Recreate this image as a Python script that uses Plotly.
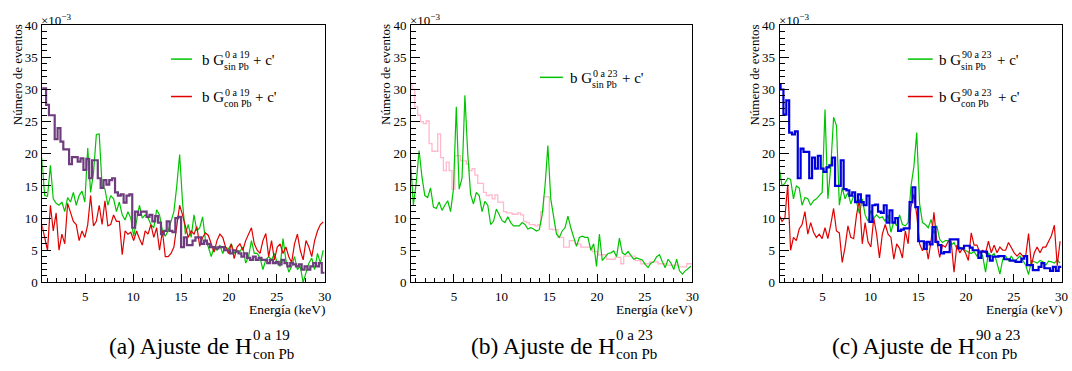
import numpy as np
import plotly.graph_objects as go

# ---------------------------------------------------------------
# Spectra: 0.3 keV bins, bin centres 0.45 ... 29.85 keV (99 bins)
# ---------------------------------------------------------------
bin_width = 0.3
energia = np.round(0.45 + bin_width * np.arange(99), 2)

# (a) fit of H(0 a 19, con Pb)
a_sin_pb = [19.4, 13.5, 13.4, 18.2, 13.0, 12.3, 12.0, 12.5, 11.0, 13.2,
            12.5, 14.0, 12.0, 13.5, 14.2, 12.5, 20.9, 14.0, 17.0, 23.0,
            23.1, 15.0, 14.5, 12.0, 13.5, 13.0, 11.0, 12.5, 10.5, 9.7,
            11.0, 10.0, 7.2, 9.5, 12.0, 10.0, 10.5, 10.0, 9.0, 8.5,
            11.3, 10.5, 8.0, 7.2, 8.0, 9.5, 11.0, 15.0, 19.9, 12.5,
            7.5, 9.0, 7.0, 10.5, 8.0, 8.5, 10.2, 6.5, 5.5, 4.0,
            5.5, 5.0, 5.8, 4.5, 5.5, 5.2, 6.0, 4.5, 5.0, 4.8,
            5.5, 3.0, 4.0, 6.5, 4.5, 4.5, 3.8, 2.0, 3.5, 4.0,
            3.5, 4.5, 3.0, 2.5, 6.8, 3.5, 1.6, 2.5, 4.0, 2.0,
            2.5, 0.0, 1.5, 3.0, 3.8, 2.0, 4.5, 3.0, 5.0]
a_con_pb = [9.0, 7.0, 5.0, 12.0, 8.0, 10.8, 5.0, 7.5, 6.0, 12.3,
            11.0, 9.5, 9.0, 6.5, 8.0, 7.0, 9.0, 13.5, 8.8, 9.5,
            12.0, 9.0, 12.7, 8.8, 9.0, 10.5, 9.5, 9.5, 4.3, 8.0,
            7.5, 7.8, 6.5, 8.0, 6.8, 5.8, 8.0, 7.5, 9.0, 7.0,
            8.5, 5.0, 8.0, 4.0, 4.0, 4.5, 5.5, 9.0, 12.0, 10.5,
            8.5, 7.0, 8.0, 7.5, 8.7, 5.6, 7.0, 7.7, 7.3, 6.0,
            4.7, 6.5, 7.5, 7.0, 5.5, 4.5, 6.0, 3.7, 5.5, 6.0,
            5.0, 6.5, 7.5, 8.5, 6.0, 5.0, 4.5, 6.5, 7.6, 4.0,
            6.5, 3.5, 5.5, 6.0, 4.5, 5.5, 4.0, 3.1, 6.0, 7.5,
            5.0, 3.5, 6.5, 5.5, 4.0, 6.5, 8.0, 9.0, 9.4]
a_hist = [30.2, 30.2, 27.6, 26.0, 26.0, 22.3, 24.0, 21.9, 20.7, 20.7,
          18.4, 19.5, 19.5, 18.8, 19.3, 17.5, 19.2, 16.2, 19.0, 19.0,
          16.2, 14.7, 15.9, 15.2, 15.9, 16.2, 14.0, 13.5, 13.7, 12.4,
          13.5, 13.7, 8.5, 11.0, 10.5, 11.0, 11.0, 10.2, 10.5, 9.5,
          10.3, 9.3, 7.5, 8.0, 9.5, 8.0, 7.8, 10.0, 10.2, 5.5,
          7.0, 5.8, 5.8, 6.5, 7.0, 7.0, 6.0, 6.5, 6.0, 5.5,
          5.5, 5.3, 5.5, 5.5, 5.0, 5.0, 4.5, 5.0, 4.8, 4.5,
          4.0, 4.5, 3.8, 3.5, 4.0, 3.5, 3.8, 3.5, 3.5, 3.0,
          3.5, 3.0, 3.2, 2.8, 3.5, 3.0, 2.5, 3.0, 2.8, 2.5,
          2.8, 2.0, 2.5, 2.0, 2.5, 3.0, 2.5, 3.0, 1.5]

# (b) fit of H(0 a 23, con Pb)
b_sin_pb = [19.0, 12.0, 15.5, 20.5, 16.4, 13.5, 13.2, 14.7, 11.7, 11.5,
            12.5, 11.2, 12.0, 12.7, 11.0, 14.5, 27.3, 14.5, 16.2, 29.1,
            20.0, 13.7, 12.2, 14.0, 13.5, 11.0, 12.6, 12.0, 9.0, 9.5,
            11.4, 10.5, 9.6, 9.3, 10.2, 9.3, 8.8, 8.8, 8.8, 9.3,
            9.0, 8.3, 8.5, 8.3, 8.0, 8.2, 10.5, 15.0, 21.3, 13.0,
            10.0, 7.5, 7.0, 8.0, 8.5, 10.3, 8.5, 7.0, 5.6, 7.0,
            7.2, 7.0, 7.0, 5.0, 6.0, 2.5, 7.5, 3.4, 4.0, 4.5,
            4.6, 4.9, 4.0, 6.9, 4.6, 4.3, 4.8, 4.1, 3.6, 3.8,
            3.6, 3.5, 2.8, 2.3, 3.0, 3.2, 4.0, 4.3, 3.2, 2.3,
            3.6, 3.0, 2.0, 3.6, 1.8, 1.3, 1.8, 2.2, 2.5]
b_hist = [30.7, 30.0, 27.3, 26.0, 25.0, 24.7, 25.1, 21.6, 20.4, 20.4,
          23.1, 19.4, 17.4, 18.7, 17.4, 14.5, 19.7, 19.7, 18.9, 18.9,
          18.4, 17.4, 17.7, 16.7, 15.4, 15.4, 14.0, 13.5, 13.6, 13.0,
          13.6, 12.5, 12.5, 11.0, 10.8, 10.8, 10.6, 10.6, 10.8, 10.5,
          9.5, 9.3, 9.0, 9.0, 8.8, 9.0, 11.0, 13.3, 13.3, 8.3,
          8.2, 8.2, 7.0, 7.0, 5.5, 5.5, 6.5, 6.5, 6.0, 6.0,
          5.5, 5.5, 5.5, 5.5, 4.8, 4.8, 4.3, 4.3, 4.3, 3.6,
          3.6, 3.6, 3.9, 3.9, 2.9, 4.1, 4.1, 4.1, 4.1, 3.4,
          3.4, 2.9, 2.9, 2.9, 3.2, 3.2, 3.2, 2.9, 2.9, 2.9,
          2.7, 2.7, 2.7, 2.7, 2.4, 2.4, 2.4, 2.9, 2.9]

# (c) fit of H(90 a 23, con Pb)
c_sin_pb = [17.9, 15.0, 15.4, 16.2, 16.0, 13.0, 15.0, 14.7, 12.0, 13.2,
            13.0, 12.0, 12.7, 13.0, 13.5, 14.0, 26.9, 13.0, 17.9, 25.7,
            24.4, 12.0, 14.7, 13.0, 14.0, 12.2, 13.5, 12.5, 10.7, 13.0,
            10.5, 9.5, 11.2, 10.0, 10.5, 10.0, 10.2, 9.5, 10.5, 7.8,
            9.5, 8.8, 10.5, 9.0, 8.8, 9.3, 15.0, 18.0, 23.3, 12.2,
            9.3, 9.0, 8.5, 9.8, 7.6, 8.8, 6.7, 6.2, 6.5, 6.5,
            5.8, 6.2, 5.2, 5.5, 5.2, 5.0, 4.8, 4.5, 4.8, 4.1,
            4.8, 4.1, 1.6, 4.6, 4.1, 4.5, 3.0, 1.3, 3.6, 4.1,
            3.4, 4.1, 3.2, 3.6, 4.1, 3.4, 2.7, 1.2, 3.4, 3.2,
            3.0, 3.4, 3.2, 2.7, 3.3, 3.2, 3.0, 3.5, 3.0]
c_con_pb = [10.5, 9.5, 10.0, 15.2, 5.0, 7.0, 6.5, 8.3, 9.0, 11.0,
            7.5, 9.3, 7.8, 7.0, 7.5, 6.8, 8.5, 6.8, 9.0, 11.5,
            8.0, 7.7, 3.1, 5.5, 8.8, 7.0, 6.8, 10.5, 12.9, 6.0,
            9.3, 6.3, 5.5, 10.0, 7.5, 3.8, 7.5, 9.0, 7.5, 7.0,
            3.6, 6.0, 5.3, 3.8, 8.0, 6.0, 11.7, 13.7, 10.5, 6.0,
            4.9, 6.4, 3.6, 6.4, 10.9, 6.4, 3.9, 5.8, 5.5, 6.4,
            6.4, 1.6, 5.8, 4.6, 5.3, 4.6, 3.4, 7.7, 5.8, 5.8,
            4.6, 5.0, 4.6, 6.4, 4.6, 5.8, 4.6, 5.5, 5.0, 5.0,
            6.2, 5.3, 4.6, 4.1, 4.6, 4.1, 4.1, 7.6, 2.6, 4.6,
            5.5, 4.6, 5.5, 5.5, 6.3, 7.3, 8.9, 2.6, 6.4]
c_hist = [30.8, 30.0, 26.1, 28.3, 23.3, 23.0, 23.5, 16.2, 20.8, 20.3,
          20.3, 16.2, 19.4, 17.7, 19.7, 17.7, 17.2, 17.9, 18.2, 19.4,
          15.0, 15.0, 19.0, 14.5, 14.3, 13.5, 14.0, 12.5, 13.7, 12.5,
          12.0, 13.5, 9.4, 12.0, 12.1, 11.0, 10.8, 12.0, 9.3, 11.2,
          9.3, 10.0, 8.0, 8.2, 8.4, 8.4, 12.5, 14.8, 11.7, 6.4,
          6.4, 5.2, 6.3, 5.9, 8.6, 6.3, 5.8, 4.5, 4.7, 4.7,
          6.7, 6.7, 6.7, 5.3, 5.3, 5.7, 5.7, 5.4, 5.0, 5.0,
          3.8, 4.8, 4.8, 4.1, 3.4, 4.0, 4.0, 4.1, 4.1, 3.6,
          3.6, 3.4, 3.4, 3.2, 3.2, 3.7, 4.1, 2.7, 2.7, 1.9,
          1.9, 2.4, 3.0, 2.2, 2.2, 1.8, 2.4, 1.8, 2.4]

x_ticks = [5, 10, 15, 20, 25, 30]
y_ticks = [0, 5, 10, 15, 20, 25, 30, 35, 40]

VERDE = "#00c400"
ROJO = "#e00000"
MORADO = "#6e3d7e"
AZUL = "#0000dd"
ROSA = "#ffb8cc"
SERIF = "Liberation Serif, Times New Roman, DejaVu Serif, serif"

W, H = 1072, 371
# panel frames in pixels: (left, right); shared top/bottom
frames = [(42.5, 326.5), (413.3, 696.3), (784.0, 1067.5)]
top_px, bottom_px = 19.0, 287.0


def px_x(px):
    return px / W


def px_y(py):
    return 1 - py / H


fig = go.Figure()


def linea(i, y, color, width=1.2):
    fig.add_trace(go.Scatter(
        x=energia, y=y, mode="lines", xaxis=f"x{i}", yaxis=f"y{i}",
        line=dict(color=color, width=width), showlegend=False,
        hoverinfo="skip"))


def histo(i, y, color, width):
    edges = np.append(energia - bin_width / 2, energia[-1] + bin_width / 2)
    vals = list(y) + [y[-1]]
    fig.add_trace(go.Scatter(
        x=edges, y=vals, mode="lines", line_shape="hv",
        xaxis=f"x{i}", yaxis=f"y{i}",
        line=dict(color=color, width=width), showlegend=False,
        hoverinfo="skip"))


# (a)
linea("", a_sin_pb, VERDE)
linea("", a_con_pb, ROJO)
histo("", a_hist, MORADO, 2.2)
# (b)
histo("2", b_hist, ROSA, 1.3)
linea("2", b_sin_pb, VERDE)
# (c)
linea("3", c_sin_pb, VERDE)
linea("3", c_con_pb, ROJO)
histo("3", c_hist, AZUL, 2.2)

tick_font = dict(family=SERIF, size=13, color="black")

layout_axes = {}
for n, (l, r) in enumerate(frames):
    suf = "" if n == 0 else str(n + 1)
    layout_axes[f"xaxis{suf}"] = dict(
        domain=[px_x(l), px_x(r)], anchor=f"y{suf}", range=[0.5, 30],
        tickmode="array", tickvals=x_ticks, ticks="inside", ticklen=8,
        tickwidth=1, tickcolor="black", showline=True, linecolor="black",
        linewidth=1, mirror=True, showgrid=False, zeroline=False,
        tickfont=tick_font, ticklabelstandoff=2,
        minor=dict(tickmode="linear", tick0=0, dtick=1, ticks="inside",
                   ticklen=4, tickcolor="black", tickwidth=1),
    )
    layout_axes[f"yaxis{suf}"] = dict(
        domain=[px_y(bottom_px), px_y(top_px)], anchor=f"x{suf}",
        range=[0, 40], tickmode="array", tickvals=y_ticks, ticks="inside",
        ticklen=9, tickwidth=1, tickcolor="black", showline=True,
        linecolor="black", linewidth=1, mirror=True, showgrid=False,
        zeroline=False, tickfont=tick_font, ticklabelstandoff=1,
        minor=dict(tickmode="linear", tick0=0, dtick=1, ticks="inside",
                   ticklen=5, tickcolor="black", tickwidth=1),
    )

annotations = []
shapes = []


def texto(px, py, s, size, xanchor="left", yanchor="middle", angle=0):
    annotations.append(dict(
        x=px_x(px), y=px_y(py), xref="paper", yref="paper", text=s,
        showarrow=False, xanchor=xanchor, yanchor=yanchor, textangle=angle,
        font=dict(family=SERIF, size=size, color="black"),
        borderpad=0, borderwidth=0))


def muestra(x0, x1, py, color):
    shapes.append(dict(type="line", xref="paper", yref="paper",
                       x0=px_x(x0), x1=px_x(x1), y0=px_y(py), y1=px_y(py),
                       line=dict(color=color, width=1.5)))


def entrada(xg, py, sup, sub, xplus):
    # "b G" with stacked super/subscript, followed by "+ c'"
    texto(xg, py + 1, "b G", 15, xanchor="right")
    texto(xg + 0.5, py - 4.5, sup, 10)
    texto(xg, py + 7.5, sub, 10)
    texto(xplus, py + 1, "+ c'", 15)


for (l, r) in frames:
    texto(l - 1, 13.5, "×10<sup>−3</sup>", 13)
    texto(r + 1, 315, "Energía (keV)", 13.5, xanchor="right")

# y-axis titles
for l, _ in frames:
    texto(l - 25, 18, "Número de eventos", 13, xanchor="center",
          yanchor="top", angle=-90)

# legends
muestra(172, 193, 54.3, VERDE)
entrada(225.5, 54.3, "0 a 19", "sin Pb", 254)
muestra(172, 193, 93.3, ROJO)
entrada(225.5, 93.3, "0 a 19", "con Pb", 256)

muestra(543, 566, 73.3, VERDE)
entrada(595.5, 73.3, "0 a 23", "sin Pb", 625)

muestra(913, 938, 54.3, VERDE)
entrada(966.7, 54.3, "90 a 23", "sin Pb", 1002.7)
muestra(913, 938, 93.3, ROJO)
entrada(966.7, 93.3, "90 a 23", "con Pb", 1004)

# sub-figure captions: main text, then stacked super/subscript after "H"
captions = [("(a) Ajuste de H", 253, "0 a 19"),
            ("(b) Ajuste de H", 618, "0 a 23"),
            ("(c) Ajuste de H", 980, "90 a 23")]
for main, xh, sup in captions:
    texto(xh, 353, main, 23.5, xanchor="right")
    texto(xh + 1.5, 342, sup, 15)
    texto(xh + 1, 362, "con Pb", 15)

fig.update_layout(
    width=W, height=H, margin=dict(l=0, r=0, t=0, b=0),
    paper_bgcolor="white", plot_bgcolor="white",
    showlegend=False, annotations=annotations, shapes=shapes,
    **layout_axes,
)

fig.write_html("out.html")
